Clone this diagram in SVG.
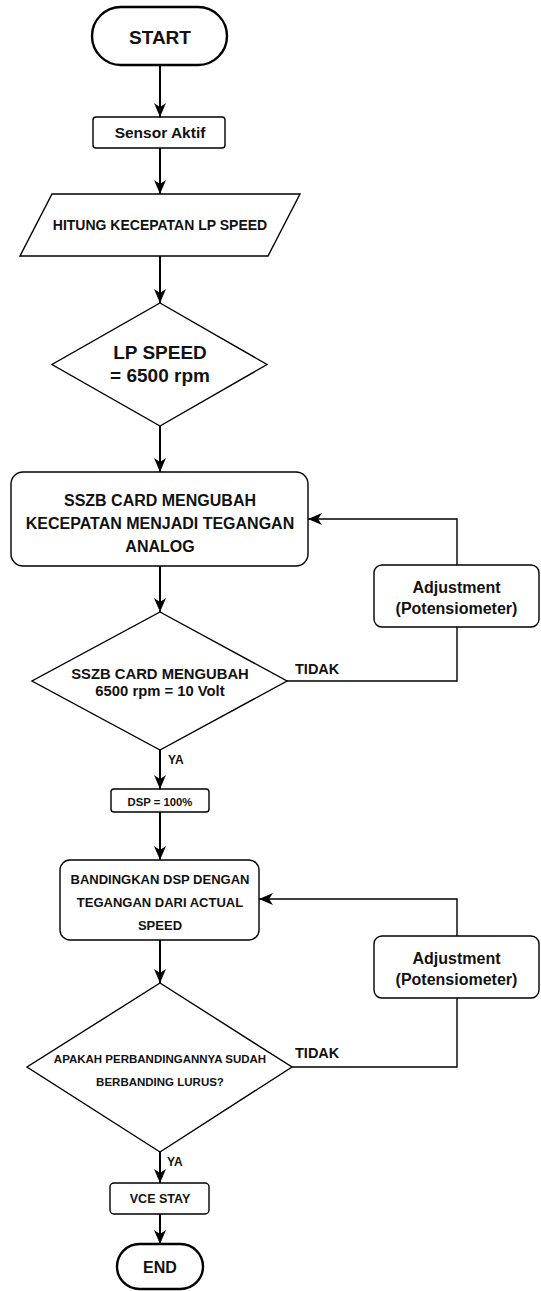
<svg xmlns="http://www.w3.org/2000/svg" width="541" height="1291" viewBox="0 0 541 1291">
<style>
.s{fill:#fff;stroke:#000;stroke-width:1.4}
.t{fill:#fff;stroke:#000;stroke-width:2.4}
text{font-family:"Liberation Sans",Arial,sans-serif;font-weight:bold;fill:#111;text-anchor:middle}
.c{fill:none;stroke:#000;stroke-width:2}
.f{fill:none;stroke:#000;stroke-width:1.4}
.l{text-anchor:start}
</style>
<defs>
<marker id="ah" markerUnits="userSpaceOnUse" viewBox="0 0 14 12" refX="14" refY="6" markerWidth="14" markerHeight="12" orient="auto">
<path d="M0,0 L14,6 L0,12 L4,6 Z" fill="#000"/>
</marker>
</defs>
<rect width="541" height="1291" fill="#fff"/>
<g id="connectors">
<line class="c" x1="160" y1="65" x2="160" y2="117" marker-end="url(#ah)"/>
<line class="c" x1="160" y1="148" x2="160" y2="194" marker-end="url(#ah)"/>
<line class="c" x1="160" y1="256" x2="160" y2="303" marker-end="url(#ah)"/>
<line class="c" x1="160" y1="426" x2="160" y2="472" marker-end="url(#ah)"/>
<line class="c" x1="160" y1="566" x2="160" y2="612" marker-end="url(#ah)"/>
<line class="c" x1="160" y1="750" x2="160" y2="789" marker-end="url(#ah)"/>
<line class="c" x1="160" y1="812" x2="160" y2="860" marker-end="url(#ah)"/>
<line class="c" x1="160" y1="940" x2="160" y2="983" marker-end="url(#ah)"/>
<line class="c" x1="160" y1="1152" x2="160" y2="1183" marker-end="url(#ah)"/>
<line class="c" x1="160" y1="1214" x2="160" y2="1244" marker-end="url(#ah)"/>
<polyline class="f" points="287,681 457,681 457,627"/>
<polyline class="f" points="457,565 457,519 308,519" marker-end="url(#ah)"/>
<polyline class="f" points="292,1067 457,1067 457,998"/>
<polyline class="f" points="457,936 457,899 259,899" marker-end="url(#ah)"/>
<text class="l" x="295" y="674" font-size="14.5">TIDAK</text>
<text class="l" x="168" y="764" font-size="12">YA</text>
<text class="l" x="295" y="1058" font-size="14.5">TIDAK</text>
<text class="l" x="167" y="1166" font-size="12">YA</text>
</g>
<g id="start">
<rect class="t" x="92" y="7" width="135" height="58" rx="29"/>
<text x="160" y="44" font-size="19">START</text>
</g>
<g id="sensor">
<rect class="s" x="93" y="117" width="132" height="31" rx="3"/>
<text x="160" y="138" font-size="15.5">Sensor Aktif</text>
</g>
<g id="hitung">
<polygon class="s" points="52,194 300,194 268,256 20,256"/>
<text x="160" y="230" font-size="14">HITUNG KECEPATAN LP SPEED</text>
</g>
<g id="lpspeed">
<polygon class="s" points="160,303 267,364.5 160,426 52,364.5"/>
<text x="160" y="359" font-size="19">LP SPEED</text>
<text x="160" y="382" font-size="19">= 6500 rpm</text>
</g>
<g id="sszb">
<rect class="s" x="11" y="472" width="297" height="94" rx="12"/>
<text x="160" y="506" font-size="16">SSZB CARD MENGUBAH</text>
<text x="160" y="529" font-size="16">KECEPATAN MENJADI TEGANGAN</text>
<text x="160" y="552" font-size="16">ANALOG</text>
</g>
<g id="adj1">
<rect class="s" x="374" y="565" width="165" height="62" rx="8"/>
<text x="456.5" y="593" font-size="16">Adjustment</text>
<text x="456.5" y="614" font-size="16">(Potensiometer)</text>
</g>
<g id="cek1">
<polygon class="s" points="160,612 287,681 160,750 32,681"/>
<text x="160" y="679" font-size="14.8">SSZB CARD MENGUBAH</text>
<text x="160" y="696" font-size="14.8">6500 rpm = 10 Volt</text>
</g>
<g id="dsp">
<rect class="s" x="111" y="789" width="98" height="23" rx="3"/>
<text x="160" y="806" font-size="11.3">DSP = 100%</text>
</g>
<g id="bandingkan">
<rect class="s" x="60" y="860" width="199" height="80" rx="10"/>
<text x="160" y="884" font-size="13">BANDINGKAN DSP DENGAN</text>
<text x="160" y="907" font-size="13">TEGANGAN DARI ACTUAL</text>
<text x="160" y="930" font-size="13">SPEED</text>
</g>
<g id="adj2">
<rect class="s" x="374" y="936" width="165" height="62" rx="8"/>
<text x="456.5" y="964" font-size="16">Adjustment</text>
<text x="456.5" y="985" font-size="16">(Potensiometer)</text>
</g>
<g id="cek2">
<polygon class="s" points="160,983 292,1067 160,1152 27,1067"/>
<text x="160" y="1063" font-size="11.5">APAKAH PERBANDINGANNYA SUDAH</text>
<text x="160" y="1086" font-size="11.5">BERBANDING LURUS?</text>
</g>
<g id="vce">
<rect class="s" x="110" y="1183" width="99" height="31" rx="4"/>
<text x="160" y="1203" font-size="12.5">VCE STAY</text>
</g>
<g id="end">
<rect class="t" x="117" y="1244" width="86" height="45" rx="22.5"/>
<text x="160" y="1273" font-size="16">END</text>
</g>
</svg>
